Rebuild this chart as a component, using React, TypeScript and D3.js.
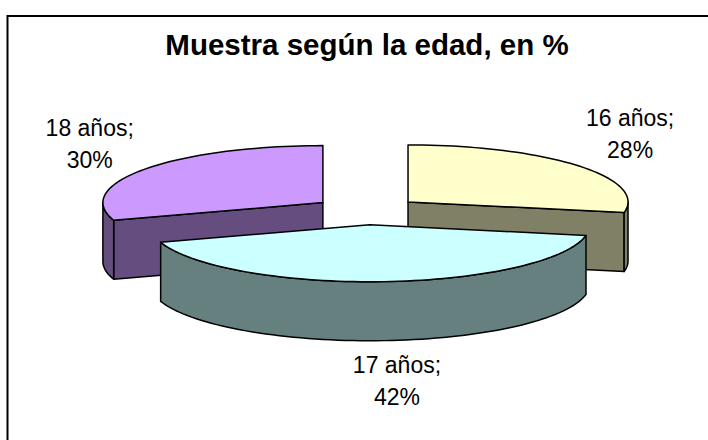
import React from "react";
import * as d3 from "d3";

const title = "Muestra según la edad, en %";
const categories = ["16 años", "17 años", "18 años"];
const values = [28, 42, 30];
const topColors = ["#FFFFCC", "#CCFFFF", "#CC99FF"];
const sideColors = ["#808066", "#668080", "#664D80"];

const W = 708;
const H = 440;
const cx = 366.5;
const cy = 210.8;
const rx = 220;
const ry = 57;
const depth = 59;
const explode = 0.245;
const labelK = 1.31;
const labelKy = 1.65;
const labelNudge = [
  [0, 0],
  [9, 11],
  [0, 5],
];

type P = [number, number];

export default function App() {
  const pie = d3
    .pie<number>()
    .sort(null)
    .startAngle(0)
    .endAngle(2 * Math.PI)
    .value((d) => d);
  const arcs = pie(values);
  const line = d3.line<P>();

  const slices = arcs.map((a, i) => {
    const mid = (a.startAngle + a.endAngle) / 2;
    const ox = cx + explode * rx * Math.sin(mid);
    const oy = cy - explode * ry * Math.cos(mid);
    const pt = (ang: number, dy = 0): P => [
      ox + rx * Math.sin(ang),
      oy - ry * Math.cos(ang) + dy,
    ];
    const arcPts = (a0: number, a1: number, dy = 0): P[] => {
      const n = Math.max(2, Math.ceil(((a1 - a0) / (2 * Math.PI)) * 180));
      return d3.range(n + 1).map((k) => pt(a0 + ((a1 - a0) * k) / n, dy));
    };
    const center: P = [ox, oy];
    const centerB: P = [ox, oy + depth];
    const top = [center, ...arcPts(a.startAngle, a.endAngle)];
    const faces: P[][] = [];
    if (Math.sin(a.startAngle) < -1e-6) {
      faces.push([center, pt(a.startAngle), pt(a.startAngle, depth), centerB]);
    }
    if (Math.sin(a.endAngle) > 1e-6) {
      faces.push([center, pt(a.endAngle), pt(a.endAngle, depth), centerB]);
    }
    const s = Math.max(a.startAngle, Math.PI / 2);
    const e = Math.min(a.endAngle, (3 * Math.PI) / 2);
    let outer: P[] | null = null;
    if (e > s) {
      outer = [...arcPts(s, e), ...arcPts(s, e, depth).reverse()];
    }
    const lx = ox + labelK * rx * Math.sin(mid) + labelNudge[i][0];
    let ly = oy - labelKy * ry * Math.cos(mid) + labelNudge[i][1];
    if (Math.cos(mid) < 0) ly += depth;
    return { i, mid, top, faces, outer, lx, ly, order: -Math.cos(mid) };
  });

  const drawOrder = [...slices].sort((p, q) => p.order - q.order);
  const stroke = { stroke: "#000", strokeWidth: 1.5, strokeLinejoin: "round" as const };

  return (
    <svg
      width={W}
      height={H}
      style={{ position: "absolute", left: 0, top: 0, background: "#fff" }}
      fontFamily="'Liberation Sans', Arial, sans-serif"
    >
      <rect x={0} y={0} width={W} height={H} fill="#fff" />
      <rect x={7.5} y={16} width={W + 50} height={H + 50} fill="#fff" stroke="#000" strokeWidth={2} />
      <text x={367} y={55} textAnchor="middle" fontSize={29.5} fontWeight="bold">
        {title}
      </text>
      {drawOrder.map((s) => (
        <g key={s.i}>
          {s.faces.map((f, k) => (
            <path key={k} d={line(f) + "Z"} fill={sideColors[s.i]} {...stroke} />
          ))}
          {s.outer && <path d={line(s.outer) + "Z"} fill={sideColors[s.i]} {...stroke} />}
          <path d={line(s.top) + "Z"} fill={topColors[s.i]} {...stroke} />
        </g>
      ))}
      {slices.map((s) => (
        <text key={"l" + s.i} textAnchor="middle" fontSize={23} fill="#000">
          <tspan x={s.lx} y={s.ly - 16}>{categories[s.i] + ";"}</tspan>
          <tspan x={s.lx} y={s.ly + 16}>{values[s.i] + "%"}</tspan>
        </text>
      ))}
    </svg>
  );
}
